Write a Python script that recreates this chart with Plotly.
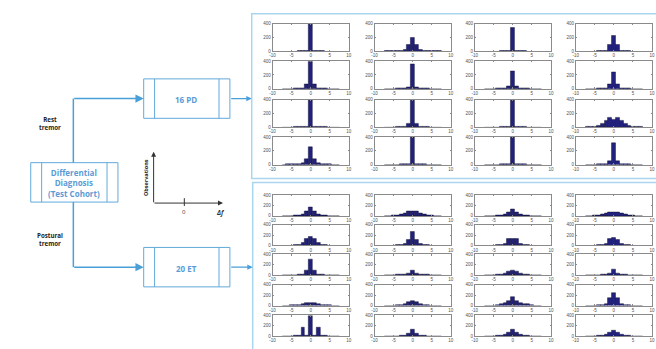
import plotly.graph_objects as go

W, H = 656, 349

# ---------------- data ----------------
bins = list(range(-7, 8))          # histogram bin centres (delta f)
x_ticks = [-10, -5, 0, 5, 10]
y_ticks = [0, 200, 400]

# 16 PD histograms (row-major, 4 columns); counts for bins -7..7
pd_hist = [
    [0, 0, 0, 0, 2, 5, 10, 450, 10, 5, 2, 0, 0, 0, 0],
    [2, 3, 5, 8, 12, 20, 90, 195, 100, 22, 12, 8, 5, 3, 2],
    [0, 0, 0, 0, 2, 4, 8, 345, 8, 4, 2, 0, 0, 0, 0],
    [0, 0, 0, 2, 4, 10, 90, 230, 90, 10, 4, 2, 0, 0, 0],
    [0, 0, 0, 2, 4, 10, 70, 450, 70, 10, 4, 2, 0, 0, 0],
    [0, 0, 0, 2, 4, 8, 30, 355, 30, 8, 4, 2, 0, 0, 0],
    [0, 0, 0, 2, 5, 15, 40, 260, 40, 15, 5, 2, 0, 0, 0],
    [0, 0, 0, 3, 6, 15, 60, 235, 60, 15, 6, 3, 0, 0, 0],
    [0, 0, 0, 2, 4, 8, 15, 450, 15, 8, 4, 2, 0, 0, 0],
    [0, 0, 0, 2, 4, 8, 45, 450, 45, 8, 4, 2, 0, 0, 0],
    [0, 0, 0, 0, 2, 5, 10, 450, 10, 5, 2, 0, 0, 0, 0],
    [3, 6, 10, 25, 55, 90, 140, 115, 140, 95, 55, 25, 10, 6, 3],
    [0, 2, 3, 5, 10, 25, 80, 255, 80, 20, 5, 3, 2, 0, 0],
    [0, 0, 0, 0, 2, 5, 15, 450, 15, 5, 2, 0, 0, 0, 0],
    [0, 0, 0, 0, 2, 4, 10, 450, 10, 4, 2, 0, 0, 0, 0],
    [0, 0, 0, 2, 4, 10, 50, 310, 50, 10, 4, 2, 0, 0, 0],
]

# 20 ET histograms (row-major, 4 columns); counts for bins -7..7
et_hist = [
    [0, 2, 3, 6, 10, 30, 90, 170, 90, 35, 15, 6, 3, 2, 0],
    [2, 3, 5, 10, 25, 50, 90, 85, 100, 50, 30, 15, 5, 3, 2],
    [0, 2, 3, 5, 10, 25, 70, 120, 65, 25, 10, 5, 3, 2, 0],
    [2, 3, 5, 10, 25, 45, 70, 80, 70, 45, 25, 10, 5, 3, 2],
    [0, 2, 3, 5, 15, 50, 130, 160, 120, 45, 15, 5, 3, 2, 0],
    [0, 2, 3, 5, 10, 30, 110, 260, 110, 30, 10, 5, 3, 2, 0],
    [0, 2, 3, 5, 10, 30, 125, 125, 125, 30, 10, 5, 3, 2, 0],
    [0, 2, 3, 5, 10, 30, 120, 140, 110, 30, 10, 5, 3, 2, 0],
    [0, 0, 2, 3, 5, 10, 90, 300, 90, 10, 5, 3, 2, 0, 0],
    [0, 2, 3, 5, 10, 15, 40, 90, 40, 15, 10, 5, 3, 2, 0],
    [0, 2, 3, 5, 15, 40, 75, 85, 80, 40, 15, 5, 3, 2, 0],
    [0, 0, 2, 3, 5, 15, 40, 110, 40, 15, 5, 3, 2, 0, 0],
    [2, 3, 5, 10, 15, 35, 60, 60, 60, 35, 15, 10, 5, 3, 2],
    [0, 2, 3, 5, 15, 40, 80, 100, 80, 40, 15, 5, 3, 2, 0],
    [0, 2, 3, 10, 25, 50, 95, 160, 95, 45, 30, 25, 5, 2, 0],
    [0, 2, 3, 5, 10, 30, 150, 250, 150, 30, 10, 5, 3, 2, 0],
    [0, 2, 3, 5, 10, 170, 20, 395, 20, 160, 10, 5, 3, 2, 0],
    [0, 0, 2, 3, 8, 20, 50, 130, 50, 20, 8, 3, 2, 0, 0],
    [0, 2, 3, 5, 15, 30, 70, 120, 70, 30, 15, 5, 3, 2, 0],
    [0, 2, 3, 10, 20, 40, 80, 110, 80, 40, 20, 10, 3, 2, 0],
]

# ---------------- layout helpers ----------------
col_left = [272, 375, 476, 578]
plot_w = 77
pd_row_top = [22, 60, 99, 137]
pd_h = 28
et_row_top = [196, 226, 256, 287, 318]
et_h = 21

BLUE = "#4a9fd8"
BOX = "#62a9d9"
PANEL = "#a9d5ee"
BAR = "#22227c"


def fx(p):
    return p / W


def fy(p):
    return 1 - p / H


fig = go.Figure()
layout_axes = {}
count = [0]


def add_hist(values, left, top, h):
    count[0] += 1
    n = count[0]
    xa = "x" if n == 1 else f"x{n}"
    ya = "y" if n == 1 else f"y{n}"
    fig.add_trace(go.Bar(
        x=bins, y=values, width=1,
        marker=dict(color=BAR, line=dict(color="#000022", width=0.4)),
        xaxis=xa, yaxis=ya, showlegend=False, hoverinfo="skip",
    ))
    common = dict(
        showline=True, linecolor="#8a8a8a", linewidth=0.6, mirror="ticks",
        ticks="inside", ticklen=1.5, tickwidth=0.5, tickcolor="#8a8a8a",
        showgrid=False, zeroline=False, fixedrange=True,
        tickfont=dict(size=4.5, color="#505050", family="Liberation Sans"),
        ticklabelstandoff=0,
    )
    layout_axes["xaxis" if n == 1 else f"xaxis{n}"] = dict(
        domain=[fx(left), fx(left + plot_w)], range=[-10, 10],
        tickvals=x_ticks, ticktext=[str(v) for v in x_ticks],
        anchor=ya, **common)
    layout_axes["yaxis" if n == 1 else f"yaxis{n}"] = dict(
        domain=[fy(top + h), fy(top)], range=[0, 400],
        tickvals=y_ticks, ticktext=[str(v) for v in y_ticks],
        anchor=xa, **common)


for i, vals in enumerate(pd_hist):
    r, c = divmod(i, 4)
    add_hist(vals, col_left[c], pd_row_top[r], pd_h)
for i, vals in enumerate(et_hist):
    r, c = divmod(i, 4)
    add_hist(vals, col_left[c], et_row_top[r], et_h)

shapes = []
annotations = []


def rect(x0, y0, x1, y1, color, width):
    shapes.append(dict(type="rect", xref="paper", yref="paper",
                       x0=fx(x0), x1=fx(x1), y0=fy(y1), y1=fy(y0),
                       line=dict(color=color, width=width), layer="below"))


def line(x0, y0, x1, y1, color, width):
    shapes.append(dict(type="line", xref="paper", yref="paper",
                       x0=fx(x0), x1=fx(x1), y0=fy(y0), y1=fy(y1),
                       line=dict(color=color, width=width)))


def arrow(x0, y0, x1, y1, color, width, size=1.0):
    annotations.append(dict(
        xref="paper", yref="paper", x=fx(x1), y=fy(y1),
        ax=x0 - x1, ay=y0 - y1, axref="pixel", ayref="pixel",
        text="", showarrow=True, arrowhead=2, arrowsize=size,
        arrowwidth=width, arrowcolor=color, standoff=0, startstandoff=0))


def text(x, y, s, size, color, bold=True, angle=0, family="Open Sans"):
    annotations.append(dict(
        xref="paper", yref="paper", x=fx(x), y=fy(y),
        text=f"<b>{s}</b>" if bold else s, showarrow=False,
        font=dict(size=size, color=color, family=family),
        xanchor="center", yanchor="middle", textangle=angle, align="center"))


# panels
rect(251, 12, 662, 179, PANEL, 1.5)
rect(252, 183, 662, 355, PANEL, 1.5)


def process_box(x0, y0, x1, y1, inset=11):
    rect(x0, y0, x1, y1, BOX, 1)
    line(x0 + inset, y0, x0 + inset, y1, BOX, 1)
    line(x1 - inset, y0, x1 - inset, y1, BOX, 1)


process_box(28, 163, 116, 203)
process_box(142, 78, 229, 118)
process_box(142, 249, 229, 289)

# connectors
line(71, 163, 71, 98, BLUE, 1.5)
arrow(71, 98, 142, 98, BLUE, 1.5, 1.1)
line(71, 203, 71, 269, BLUE, 1.5)
arrow(71, 269, 142, 269, BLUE, 1.5, 1.1)
arrow(229, 98, 251, 98, BLUE, 1.2, 0.9)
arrow(229, 269, 252, 269, BLUE, 1.2, 0.9)

# box texts
text(72, 184, "Differential<br>Diagnosis<br>(Test Cohort)", 8, "#5b9bd5")
text(185, 99, "16 PD", 8, "#5b9bd5")
text(185, 270, "20 ET", 8, "#5b9bd5")
text(47, 123, "Rest<br>tremor", 6.2, "#222222")
text(47, 241, "Postural<br>tremor", 6.2, "#222222")

# inset schematic axes
arrow(152, 204, 152, 152, "#333333", 1, 1.0)
arrow(152, 204, 222, 204, "#333333", 1, 1.0)
line(183, 199, 183, 207, "#333333", 1)
text(183, 213, "0", 6, "#333333", bold=False)
text(220, 214, "<i>Δf</i>", 6.5, "#333333")
text(145, 178, "Observations", 5.5, "#222222", angle=-90)

fig.update_layout(
    width=W, height=H, margin=dict(l=0, r=0, t=0, b=0),
    paper_bgcolor="white", plot_bgcolor="white",
    shapes=shapes, annotations=annotations, bargap=0,
    **layout_axes,
)

fig.write_html("out.html")
